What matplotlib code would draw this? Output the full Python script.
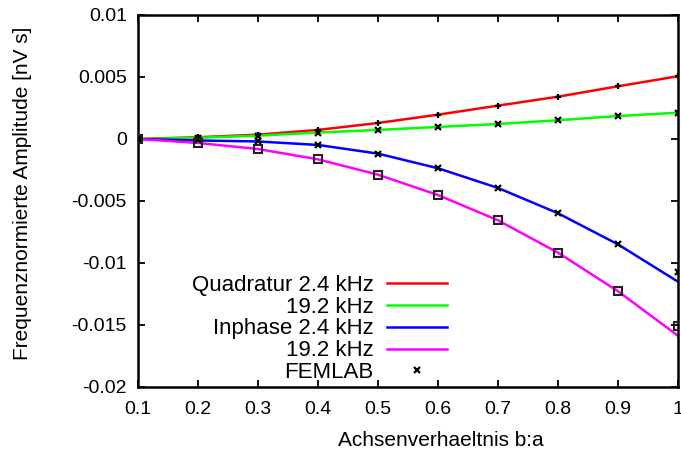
import matplotlib
matplotlib.use("Agg")
import matplotlib.pyplot as plt
from matplotlib.lines import Line2D

plt.rcParams['font.family'] = ['Liberation Sans', 'DejaVu Sans']
plt.rcParams['axes.unicode_minus'] = False

x = [0.1, 0.2, 0.3, 0.4, 0.5, 0.6, 0.7, 0.8, 0.9, 1.0]
quad_24 = [0.0, 0.00014, 0.00035, 0.00073, 0.00129, 0.00196, 0.00269, 0.00341, 0.00425, 0.00506]
quad_192 = [0.0, 0.0001, 0.00027, 0.00052, 0.00073, 0.00097, 0.00121, 0.00151, 0.00185, 0.00212]
inph_24 = [0.0, -0.00012, -0.0002, -0.00048, -0.00118, -0.00236, -0.00395, -0.00599, -0.0085, -0.01151]
inph_192 = [0.0, -0.00032, -0.00081, -0.00164, -0.00288, -0.00452, -0.00656, -0.00917, -0.01228, -0.01587]

fem_quad_24 = [0.0, 0.00014, 0.00035, 0.00073, 0.00129, 0.00196, 0.00269, 0.00341, 0.00425, 0.00506]
fem_quad_192 = [0.0, 0.0001, 0.00027, 0.00052, 0.00073, 0.00097, 0.00121, 0.00151, 0.00185, 0.00212]
fem_inph_24 = [0.0, -0.00012, -0.0002, -0.00048, -0.00118, -0.00236, -0.00395, -0.00599, -0.0085, -0.0107]
fem_inph_192 = [0.0, -0.00032, -0.00081, -0.00164, -0.00288, -0.00452, -0.00656, -0.00917, -0.01228, -0.01506]

labels = ["Quadratur 2.4 kHz", "19.2 kHz", "Inphase 2.4 kHz", "19.2 kHz", "FEMLAB"]
colors = ["#ff0000", "#00ff00", "#0000ff", "#ff00ff"]

xticks = [0.1, 0.2, 0.3, 0.4, 0.5, 0.6, 0.7, 0.8, 0.9, 1.0]
xticklabels = ["0.1", "0.2", "0.3", "0.4", "0.5", "0.6", "0.7", "0.8", "0.9", "1"]
yticks = [0.01, 0.005, 0.0, -0.005, -0.01, -0.015, -0.02]
yticklabels = ["0.01", "0.005", "0", "-0.005", "-0.01", "-0.015", "-0.02"]

fig = plt.figure(figsize=(6.81, 4.54), dpi=100)
ax = fig.add_axes([0.2026, 0.1476, 0.7930, 0.8194])

lines = [quad_24, quad_192, inph_24, inph_192]
handles = []
for vals, c in zip(lines, colors):
    h, = ax.plot(x, vals, color=c, lw=1.8, zorder=2)
    handles.append(h)

ax.plot(x, fem_quad_24, ls='none', marker='+', color='black', ms=5, mew=1.6, zorder=3)
ax.plot(x, fem_quad_192, ls='none', marker='x', color='black', ms=5, mew=1.6, zorder=3)
ax.plot(x, fem_inph_24, ls='none', marker='x', color='black', ms=5, mew=1.6, zorder=3)
ax.plot(x, fem_inph_192, ls='none', marker='s', mfc='none', mec='#222222', ms=5.5, mew=1.5, zorder=3)
handles.append(Line2D([], [], ls='none', marker='x', color='black', ms=4, mew=1.6))

ax.set_xlim(0.1, 1.0)
ax.set_ylim(-0.02, 0.01)
ax.set_xticks(xticks)
ax.set_xticklabels(xticklabels)
ax.set_yticks(yticks)
ax.set_yticklabels(yticklabels)
ax.tick_params(direction='in', top=True, right=True, length=5, width=1.3, labelsize=14)
ax.tick_params(axis='x', pad=10)
ax.tick_params(axis='y', pad=8)
for s in ax.spines.values():
    s.set_linewidth(1.8)

ax.set_xlabel("Achsenverhaeltnis b:a", fontsize=15, va='center')
ax.xaxis.set_label_coords(0.561, -0.1425)
ax.set_ylabel("Frequenznormierte Amplitude [nV s]", fontsize=15, va='center')
ax.yaxis.set_label_coords(-0.213, 0.5215)

leg = ax.legend(handles, labels, loc='upper right', bbox_to_anchor=(0.572, 0.302),
                markerfirst=False, frameon=False, fontsize=16, handlelength=2.7,
                handletextpad=0.6, labelspacing=0.04, borderpad=0.0, borderaxespad=0.0)
try:
    for col in leg._legend_handle_box.get_children():
        col.align = 'right'
except Exception:
    pass

fig.savefig("out.png", dpi=100)
